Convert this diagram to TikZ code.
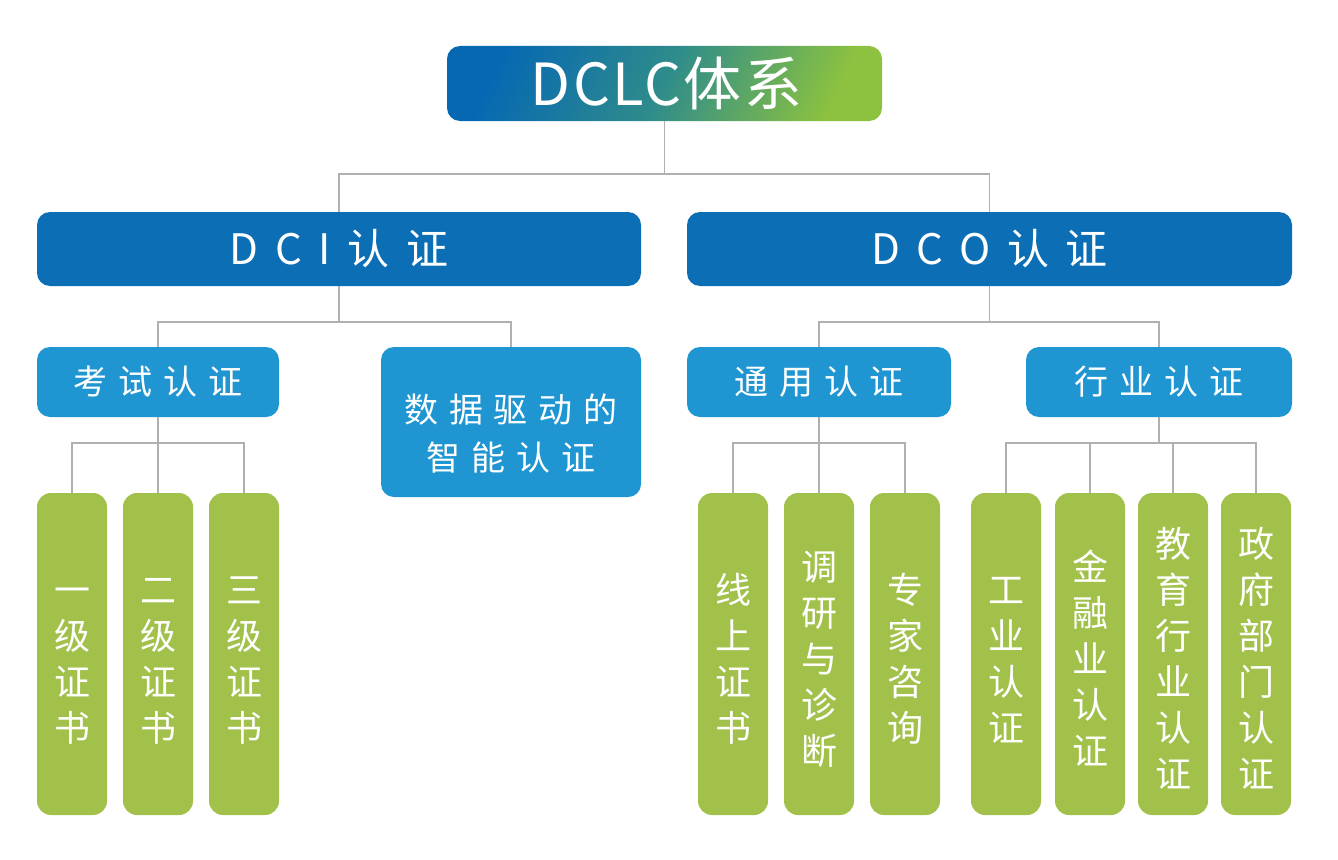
\documentclass[tikz,border=0pt]{standalone}
\usepackage{fontspec}
\setmainfont{Noto Sans CJK SC}
\newfontfamily\titlefont[LetterSpace=4]{Noto Sans CJK SC}
\newfontfamily\spacedfont[LetterSpace=32]{Noto Sans CJK SC}
\newfontfamily\widefont[LetterSpace=40]{Noto Sans CJK SC}
\definecolor{darkblue}{HTML}{0C6EB5}
\definecolor{lightblue}{HTML}{1F95D1}
\definecolor{leafgreen}{HTML}{A2C14A}
\definecolor{linegray}{HTML}{B0B0B0}
\definecolor{gradA}{HTML}{0668B3}
\definecolor{gradB}{HTML}{2F8C8A}
\definecolor{gradC}{HTML}{8CC23F}
\newcommand{\topstrut}{\rule{0pt}{0.88em}}
\newcommand{\leafstrut}{\rule{0pt}{42pt}}
\newcommand{\botstrut}{\rule[-0.12em]{0pt}{0.12em}}
\begin{document}
\begin{tikzpicture}[x=1pt,y=-1pt,
  conn/.style={draw=linegray,line width=1.5pt},
  topbox/.style={rounded corners=13pt,inner sep=0pt,minimum width=435pt,minimum height=75pt,
    left color=gradA,right color=gradC,middle color=gradB,shading angle=65,
    text=white,font=\titlefont\fontsize{58}{60}\selectfont},
  levelone/.style={rounded corners=13pt,inner sep=0pt,fill=darkblue,minimum height=74pt,
    text=white,font=\widefont\fontsize{42}{48}\selectfont},
  leveltwo/.style={rounded corners=13pt,inner sep=0pt,fill=lightblue,minimum height=70pt,
    text=white,align=center,font=\spacedfont\fontsize{34}{48}\selectfont},
  leafbox/.style={rounded corners=14pt,inner sep=0pt,fill=leafgreen,minimum width=70pt,
    minimum height=322pt,text=white,align=center,font=\fontsize{36}{46}\selectfont}]
\useasboundingbox (0,0) rectangle (1338,859);
\fill[white] (0,0) rectangle (1338,859);

\coordinate (busA) at (0,174);
\coordinate (busB) at (0,322);
\coordinate (busC) at (0,443);

\node[topbox] (top) at (664.5,83.5) {\hspace*{4pt}DCLC体系};
\node[levelone,minimum width=604pt] (dci) at (339,249) {\topstrut DCI认证\botstrut};
\node[levelone,minimum width=605pt] (dco) at (989.5,249) {\topstrut DCO认证\botstrut};

\node[leveltwo,minimum width=242pt] (ks) at (158,382) {\topstrut 考试认证\botstrut};
\node[leveltwo,minimum width=260pt,minimum height=150pt] (sj) at (511,422) {\rule{0pt}{54pt}数据驱动的\\智能认证\botstrut};
\node[leveltwo,minimum width=264pt] (ty) at (819,382) {\topstrut 通用认证\botstrut};
\node[leveltwo,minimum width=266pt] (hy) at (1159,382) {\topstrut 行业认证\botstrut};

\node[leafbox] (g1) at (72,654) {\leafstrut 一\\级\\证\\书\botstrut};
\node[leafbox] (g2) at (158,654) {\leafstrut 二\\级\\证\\书\botstrut};
\node[leafbox] (g3) at (244,654) {\leafstrut 三\\级\\证\\书\botstrut};
\node[leafbox] (g4) at (733,654) {\leafstrut 线\\上\\证\\书\botstrut};
\node[leafbox] (g5) at (819,654) {\leafstrut 调\\研\\与\\诊\\断\botstrut};
\node[leafbox] (g6) at (905,654) {\leafstrut 专\\家\\咨\\询\botstrut};
\node[leafbox] (g7) at (1006,654) {\leafstrut 工\\业\\认\\证\botstrut};
\node[leafbox] (g8) at (1090,654) {\leafstrut 金\\融\\业\\认\\证\botstrut};
\node[leafbox] (g9) at (1173,654) {\leafstrut 教\\育\\行\\业\\认\\证\botstrut};
\node[leafbox] (g10) at (1256,654) {\leafstrut 政\\府\\部\\门\\认\\证\botstrut};

\foreach \c in {dci,dco}
  \draw[conn] (top.south) |- (\c.north |- busA) -- (\c.north);
\foreach \c in {ks,sj}
  \draw[conn] (dci.south) |- (\c.north |- busB) -- (\c.north);
\foreach \c in {ty,hy}
  \draw[conn] (dco.south) |- (\c.north |- busB) -- (\c.north);
\foreach \c in {g1,g2,g3}
  \draw[conn] (ks.south) |- (\c.north |- busC) -- (\c.north);
\foreach \c in {g4,g5,g6}
  \draw[conn] (ty.south) |- (\c.north |- busC) -- (\c.north);
\foreach \c in {g7,g8,g9,g10}
  \draw[conn] (hy.south) |- (\c.north |- busC) -- (\c.north);
\end{tikzpicture}
\end{document}
